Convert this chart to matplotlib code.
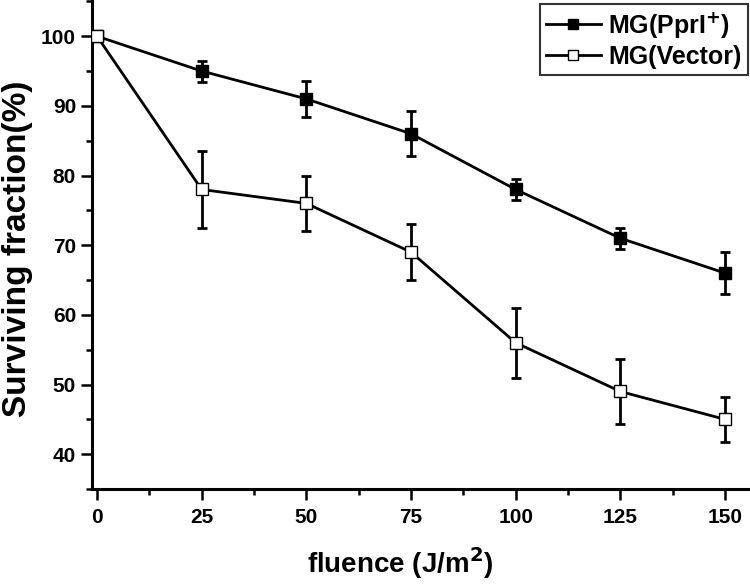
import matplotlib
matplotlib.use("Agg")
import matplotlib.pyplot as plt
from matplotlib.ticker import MultipleLocator

plt.rcParams['font.family'] = ['Liberation Sans', 'DejaVu Sans']
plt.rcParams['font.weight'] = 'bold'
plt.rcParams['mathtext.default'] = 'bf'

fluence = [0, 25, 50, 75, 100, 125, 150]
ppri_vals = [100, 95, 91, 86, 78, 71, 66]
ppri_err = [0, 1.5, 2.6, 3.2, 1.5, 1.5, 3.0]
vector_vals = [100, 78, 76, 69, 56, 49, 45]
vector_err = [0, 5.5, 4.0, 4.0, 5.0, 4.7, 3.2]
xticks = [0, 25, 50, 75, 100, 125, 150]
yticks = [40, 50, 60, 70, 80, 90, 100]

W, H = 750, 584
L, R, B, T = 92, 748, 489, 0
fig = plt.figure(figsize=(W/100, H/100), dpi=100)
ax = fig.add_axes([L/W, 1-B/H, (R-L)/W, (B-T)/H])

eb = dict(fmt='none', ecolor='black', capsize=3.6, capthick=2, elinewidth=2)
ax.errorbar(fluence, ppri_vals, yerr=ppri_err, zorder=2, **eb)
ax.errorbar(fluence, vector_vals, yerr=vector_err, zorder=2, **eb)
ax.plot(fluence, ppri_vals, color='black', lw=2, marker='s', ms=8.5,
        mfc='black', mec='black', label='MG(PprI$^{+}$)', zorder=3)
ax.plot(fluence, vector_vals, color='black', lw=2, marker='s', ms=8.5,
        mfc='white', mec='black', mew=1, label='MG(Vector)', zorder=4)

ax.set_xlim(-1.2, 155.5)
ax.set_ylim(35, 105.2)
ax.set_xticks(xticks)
ax.set_yticks(yticks)
ax.xaxis.set_minor_locator(MultipleLocator(12.5))
ax.yaxis.set_minor_locator(MultipleLocator(5))

for s in ['top', 'right']:
    ax.spines[s].set_visible(False)
for s in ['left', 'bottom']:
    ax.spines[s].set_linewidth(2.2)

ax.tick_params(which='major', direction='out', length=8, width=1.8,
               labelsize=15)
ax.tick_params(axis='x', which='major', pad=6)
ax.tick_params(axis='y', which='major', pad=3.5)
ax.tick_params(which='minor', direction='out', length=4.3, width=1.8)
for lab in ax.get_xticklabels() + ax.get_yticklabels():
    lab.set_fontweight('bold')

ax.set_xlabel('fluence (J/m$^{2}$)', fontsize=20, fontweight='bold')
ax.xaxis.set_label_coords((400-L)/(R-L), (B-545)/(B-T))
ax.set_ylabel('Surviving fraction(%)', fontsize=24, fontweight='bold')
ax.yaxis.set_label_coords((33-L)/(R-L), (B-249)/(B-T))

leg = ax.legend(loc='upper right', bbox_to_anchor=(1.0, 0.992), fontsize=18,
                frameon=True, fancybox=False, edgecolor='black',
                handlelength=2.2, handletextpad=0.3, borderpad=0.25,
                labelspacing=0.2, borderaxespad=0.0)
leg.get_frame().set_linewidth(1.5)
for h in leg.legend_handles:
    h.set_markersize(7)

fig.savefig('out.png', dpi=100)
